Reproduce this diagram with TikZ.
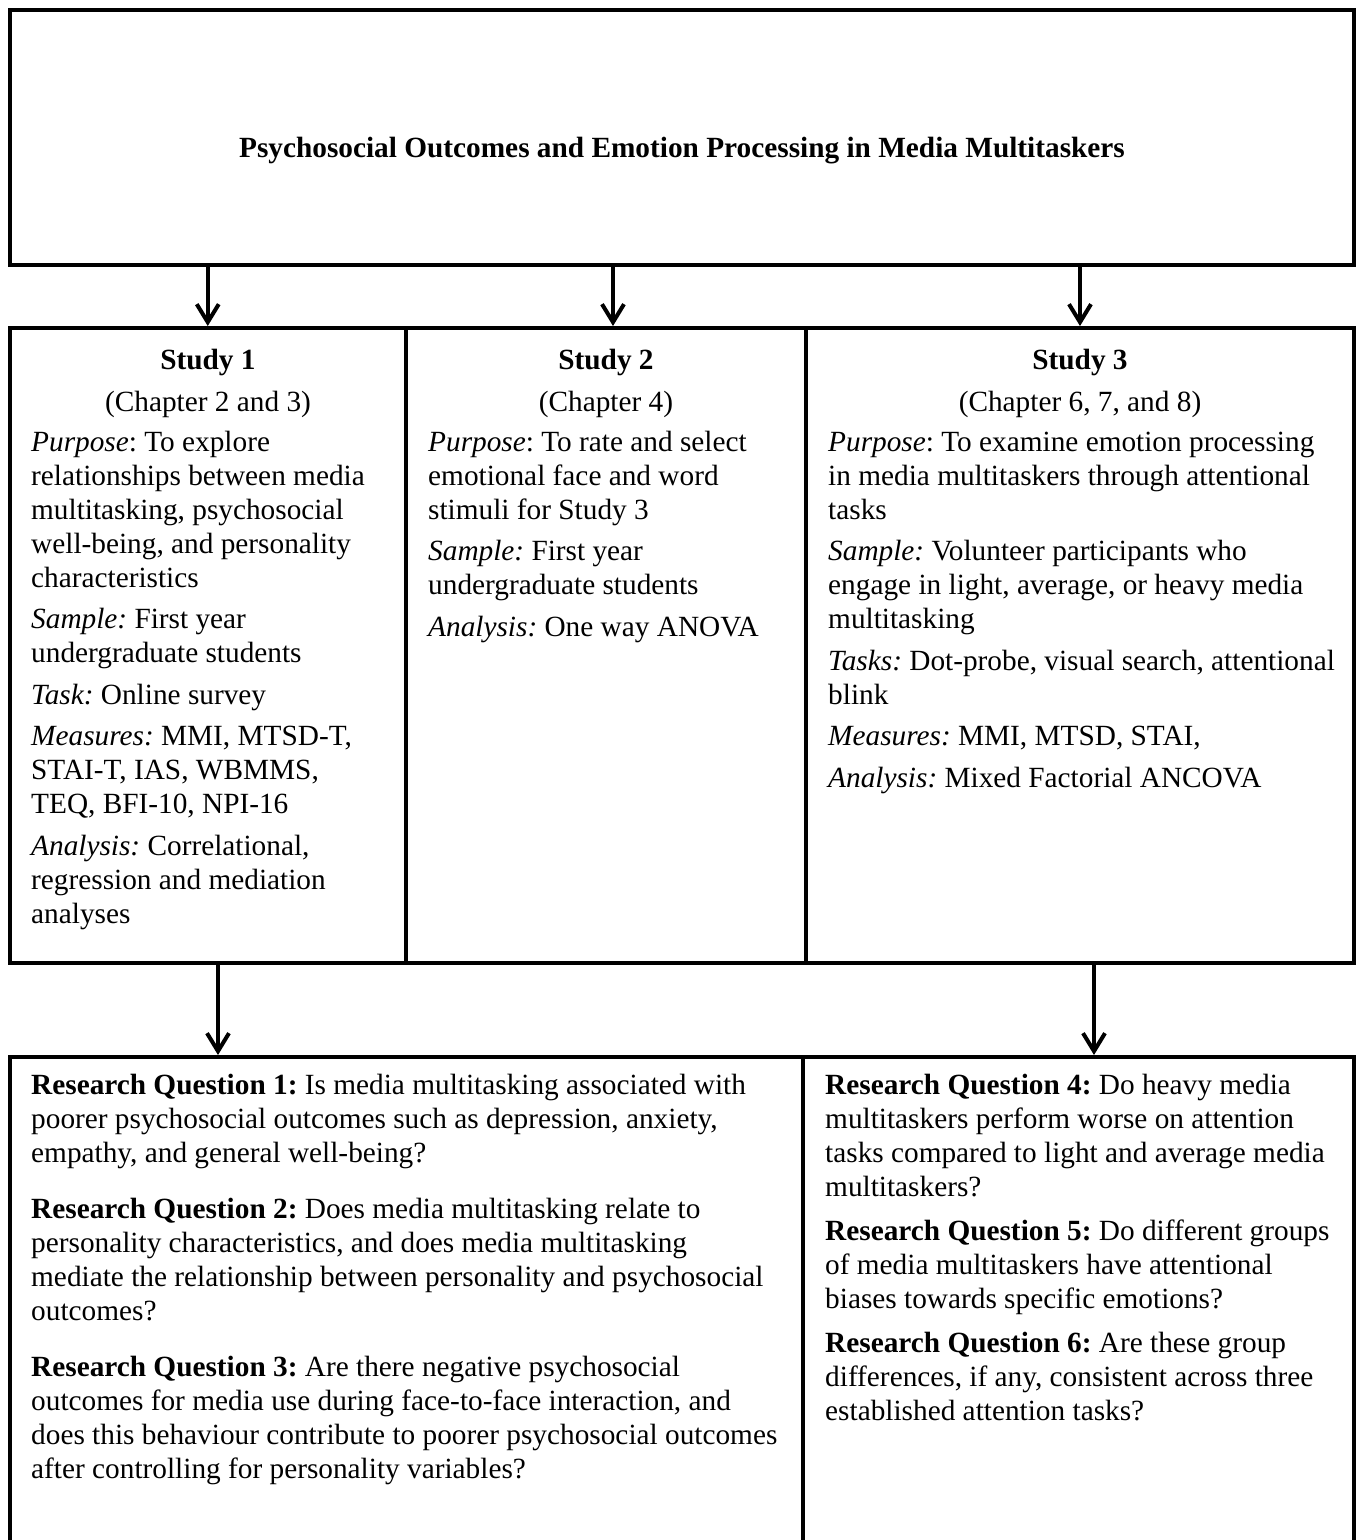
\documentclass[tikz,border=0pt]{standalone}
\usepackage{fontspec}
\setmainfont{Liberation Serif}
\usetikzlibrary{arrows.meta}
\newcommand{\diagfont}{\fontsize{29.3}{34}\selectfont\frenchspacing}
\newcommand{\colbody}[2]{\parbox[t]{#1}{\diagfont\raggedright #2}}

\begin{document}
\begin{tikzpicture}[x=1pt,y=-1pt,
  box/.style={draw,line width=4pt,inner sep=0pt,rectangle},
  arr/.style={line width=4pt,-{Straight Barb[length=18pt,width=22pt]}},
  body/.style={anchor=base west,inner sep=0pt,font=\diagfont},
  head/.style={anchor=base,inner sep=0pt,font=\diagfont\bfseries},
  chap/.style={anchor=base,inner sep=0pt,font=\diagfont}]
\useasboundingbox (0,0) rectangle (1358,1540);
\clip (0,0) rectangle (1358,1540);

% frames
\node[box,minimum width=1344.5pt,minimum height=255.5pt] (top) at (681.75,137.25) {};
\node[box,minimum width=396.5pt,minimum height=635pt] (s1) at (207.75,645.5) {};
\node[box,minimum width=400pt,minimum height=635pt] (s2) at (606,645.5) {};
\node[box,minimum width=548pt,minimum height=635pt] (s3) at (1080,645.5) {};
\node[box,minimum width=793.5pt,minimum height=510pt] (b1) at (406.25,1312) {};
\node[box,minimum width=551pt,minimum height=510pt] (b2) at (1078.5,1312) {};

% arrow positions
\coordinate (a2) at (613,0);
\coordinate (a4) at (218,0);
\coordinate (a5) at (1094,0);
\draw[arr] (top.south -| s1.north) -- (s1.north);
\draw[arr] (top.south -| a2) -- (s2.north -| a2);
\draw[arr] (top.south -| s3.north) -- (s3.north);
\draw[arr] (s1.south -| a4) -- (b1.north -| a4);
\draw[arr] (s3.south -| a5) -- (b2.north -| a5);

% title
\node[head] (title) at (682,157) {Psychosocial Outcomes and Emotion Processing in Media Multitaskers};

% study headings
\node[head] (h1) at (208,369) {Study 1};
\node[chap] (c1) at (208,411) {(Chapter 2 and 3)};
\node[head] (h2) at (606,369) {Study 2};
\node[chap] (c2) at (606,411) {(Chapter 4)};
\node[head] (h3) at (1080,369) {Study 3};
\node[chap] (c3) at (1080,411) {(Chapter 6, 7, and 8)};

% study details
\node[body] (t1) at (31,451) {\colbody{370pt}{%
\textit{Purpose}: To explore\\
relationships between media\\
multitasking, psychosocial\\
well-being, and personality\\
characteristics\\[7.5pt]
\textit{Sample:} First year\\
undergraduate students\\[7.5pt]
\textit{Task:} Online survey\\[7.5pt]
\textit{Measures:} MMI, MTSD-T,\\
STAI-T, IAS, WBMMS,\\
TEQ, BFI-10, NPI-16\\[7.5pt]
\textit{Analysis:} Correlational,\\
regression and mediation\\
analyses}};

\node[body] (t2) at (428,451) {\colbody{372pt}{%
\textit{Purpose}: To rate and select\\
emotional face and word\\
stimuli for Study 3\\[7.5pt]
\textit{Sample:} First year\\
undergraduate students\\[7.5pt]
\textit{Analysis:} One way ANOVA}};

\node[body] (t3) at (828,451) {\colbody{522pt}{%
\textit{Purpose}: To examine emotion processing\\
in media multitaskers through attentional\\
tasks\\[7.5pt]
\textit{Sample:} Volunteer participants who\\
engage in light, average, or heavy media\\
multitasking\\[7.5pt]
\textit{Tasks:} Dot-probe, visual search, attentional\\
blink\\[7.5pt]
\textit{Measures:} MMI, MTSD, STAI,\\[7.5pt]
\textit{Analysis:} Mixed Factorial ANCOVA}};

% research questions
\node[body] (q13) at (31,1094) {\colbody{768pt}{%
\textbf{Research Question 1:} Is media multitasking associated with\\
poorer psychosocial outcomes such as depression, anxiety,\\
empathy, and general well-being?\\[22pt]
\textbf{Research Question 2:} Does media multitasking relate to\\
personality characteristics, and does media multitasking\\
mediate the relationship between personality and psychosocial\\
outcomes?\\[22pt]
\textbf{Research Question 3:} Are there negative psychosocial\\
outcomes for media use during face-to-face interaction, and\\
does this behaviour contribute to poorer psychosocial outcomes\\
after controlling for personality variables?}};

\node[body] (q46) at (825,1094) {\colbody{526pt}{%
\textbf{Research Question 4:} Do heavy media\\
multitaskers perform worse on attention\\
tasks compared to light and average media\\
multitaskers?\\[10pt]
\textbf{Research Question 5:} Do different groups\\
of media multitaskers have attentional\\
biases towards specific emotions?\\[10pt]
\textbf{Research Question 6:} Are these group\\
differences, if any, consistent across three\\
established attention tasks?}};
\end{tikzpicture}
\end{document}
